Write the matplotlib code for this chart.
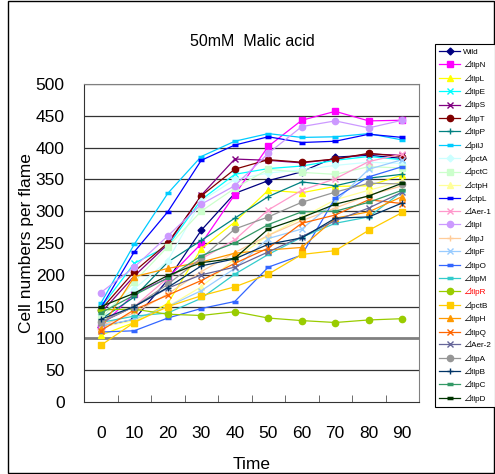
import numpy as np
import matplotlib.pyplot as plt
from matplotlib.lines import Line2D
from matplotlib.patches import Rectangle

plt.rcParams['font.family'] = ['Liberation Sans', 'Noto Sans CJK JP', 'DejaVu Sans']

# time points (min)
times = [0, 10, 20, 30, 40, 50, 60, 70, 80, 90]

# cell counts per frame
wild = [118, 130, 192, 270, 328, 348, 362, 385, 388, 383]
tlpN = [118, 170, 195, 249, 326, 402, 443, 457, 442, 443]
tlpL = [105, 125, 155, 241, 283, 333, 329, 339, 340, 357]
tlpE = [148, 218, 245, 318, 358, 367, 371, 380, 386, 381]
tlpS = [140, 198, 248, 325, 382, 380, 376, 382, 390, 388]
tlpT = [145, 205, 250, 324, 366, 381, 377, 382, 391, 386]
tlpP = [130, 165, 220, 254, 289, 323, 346, 340, 352, 358]
pilJ = [155, 248, 328, 386, 410, 422, 416, 417, 422, 412]
pctA = [138, 178, 222, 316, 350, 360, 365, 372, 377, 375]
pctC = [130, 189, 244, 300, 336, 366, 361, 358, 370, 368]
ctpH = [118, 128, 150, 181, 225, 262, 290, 318, 333, 347]
ctpL = [148, 236, 299, 380, 404, 417, 408, 410, 421, 416]
aer1 = [125, 150, 195, 225, 255, 302, 333, 351, 378, 390]
tlpI = [172, 212, 261, 311, 340, 391, 433, 442, 431, 443]
tlpJ = [120, 140, 170, 205, 235, 262, 285, 305, 325, 340]
tlpF = [120, 130, 150, 175, 210, 257, 272, 315, 366, 381]
tlpO = [110, 112, 132, 147, 158, 212, 231, 321, 354, 370]
tlpM = [125, 135, 140, 163, 201, 232, 259, 281, 291, 331]
tlpR = [145, 146, 138, 136, 142, 132, 128, 125, 129, 131]
pctB = [89, 125, 150, 167, 181, 201, 232, 238, 270, 298]
tlpH = [115, 197, 210, 220, 234, 239, 243, 289, 299, 323]
tlpQ = [112, 145, 168, 191, 218, 242, 281, 294, 318, 312]
aer2 = [125, 150, 179, 200, 212, 236, 260, 285, 305, 330]
tlpA = [126, 150, 185, 226, 272, 291, 314, 330, 344, 343]
tlpB = [130, 150, 180, 214, 225, 248, 258, 289, 291, 313]
tlpC = [140, 168, 195, 230, 250, 279, 299, 300, 314, 333]
tlpD = [150, 171, 199, 219, 226, 272, 290, 311, 324, 344]

series = [
    ('Wild', wild, '#000080', 'D'),
    ('⊿tlpN', tlpN, '#FF00FF', 's'),
    ('⊿tlpL', tlpL, '#FFFF00', '^'),
    ('⊿tlpE', tlpE, '#00FFFF', 'x'),
    ('⊿tlpS', tlpS, '#800080', 'x'),
    ('⊿tlpT', tlpT, '#800000', 'o'),
    ('⊿tlpP', tlpP, '#008080', '+'),
    ('⊿pilJ', pilJ, '#00CCFF', '_'),
    ('⊿pctA', pctA, '#CCFFFF', 'D'),
    ('⊿pctC', pctC, '#CCFFCC', 's'),
    ('⊿ctpH', ctpH, '#FFFF99', '^'),
    ('⊿ctpL', ctpL, '#0000FF', '_'),
    ('⊿Aer-1', aer1, '#FF99CC', 'x'),
    ('⊿tlpI', tlpI, '#CC99FF', 'o'),
    ('⊿tlpJ', tlpJ, '#FFCC99', '+'),
    ('⊿tlpF', tlpF, '#99CCFF', 'x'),
    ('⊿tlpO', tlpO, '#3366FF', '_'),
    ('⊿tlpM', tlpM, '#33CCCC', '_'),
    ('⊿tlpR', tlpR, '#99CC00', 'o'),
    ('⊿pctB', pctB, '#FFCC00', 's'),
    ('⊿tlpH', tlpH, '#FF9900', '^'),
    ('⊿tlpQ', tlpQ, '#FF6600', 'x'),
    ('⊿Aer-2', aer2, '#666699', 'x'),
    ('⊿tlpA', tlpA, '#969696', 'o'),
    ('⊿tlpB', tlpB, '#003366', '+'),
    ('⊿tlpC', tlpC, '#339966', '_'),
    ('⊿tlpD', tlpD, '#003300', '_'),
]

W, H = 495, 474
fig = plt.figure(figsize=(W / 100, H / 100), dpi=100)
ax = fig.add_axes([84 / W, 72 / H, 335 / W, 318 / H])

x = np.arange(len(times))
for name, vals, color, marker in series:
    mew = 2.5 if marker == '_' else 1.0
    ms = 3.5 if marker == 'D' else 4.5
    ax.plot(x, vals, color=color, lw=0.9, marker=marker, ms=ms, mew=mew,
            mfc=color, mec=color, label=name)

ax.set_xlim(-0.5, 9.5)
ax.set_ylim(0, 500)
ax.set_yticks(range(0, 501, 50))
ax.set_xticks(x)
ax.set_xticklabels([str(t) for t in times])
ax.set_xticks(np.arange(-0.5, 10, 1), minor=True)
ax.tick_params(axis='x', which='major', length=0, pad=17, labelsize=12.5)
ax.tick_params(axis='x', which='minor', direction='in', length=5, color='#555555')
ax.tick_params(axis='y', direction='in', length=0, pad=14, labelsize=12.5)
for v in range(50, 501, 50):
    if v == 100:
        ax.axhline(v, color='#808080', lw=2, zorder=0.5)
    else:
        ax.axhline(v, color='#333333', lw=0.9, zorder=0.5)
for side in ['top', 'right']:
    ax.spines[side].set_color('#808080')
ax.spines['left'].set_color('#333333')
ax.spines['bottom'].set_color('#333333')

ax.set_xlabel('Time', fontsize=12.5, labelpad=12)
ax.set_ylabel('Cell numbers per flame', fontsize=12.5)
ax.yaxis.set_label_coords(-0.148, 0.5)
fig.text(252 / W, 1 - 41 / H, '50mM  Malic acid', ha='center', va='center', fontsize=11.5)

leg = fig.legend(loc='upper left', bbox_to_anchor=(435 / W, 1 - 44 / H), fontsize=5.9,
                 labelspacing=0.6, handlelength=2.6, handletextpad=0.3,
                 borderpad=0.5, borderaxespad=0, fancybox=False, edgecolor='black',
                 framealpha=1)
leg.get_frame().set_linewidth(0.8)
for t in leg.get_texts():
    if 'tlpR' in t.get_text():
        t.set_color('red')

fig.add_artist(Rectangle((8 / W, 1 / H), 486 / W, 472 / H, fill=False,
                         edgecolor='black', lw=1, transform=fig.transFigure))

# underline the highlighted legend entry
fig.canvas.draw()
for t in leg.get_texts():
    if 'tlpR' in t.get_text():
        bb = t.get_window_extent()
        fig.add_artist(Line2D([bb.x0 / W, bb.x1 / W], [(bb.y0 - 0.5) / H] * 2,
                              transform=fig.transFigure, color='red', lw=0.8))

fig.savefig('out.png', dpi=100)
